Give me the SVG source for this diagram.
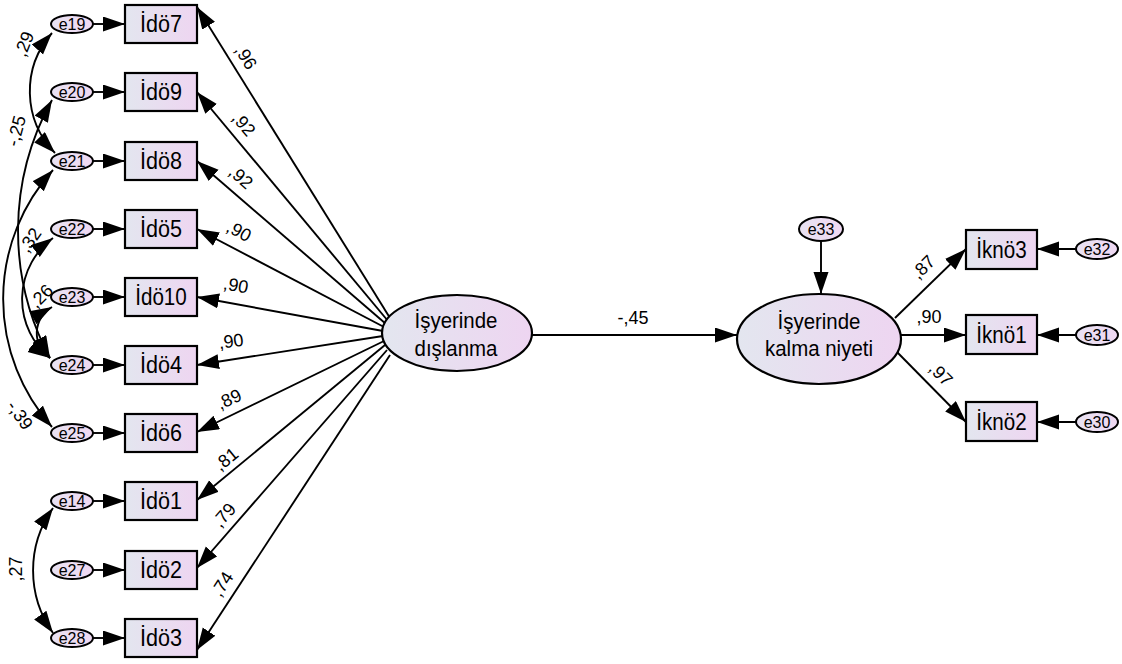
<svg xmlns="http://www.w3.org/2000/svg" width="1122" height="664" viewBox="0 0 1122 664">
<defs>
<linearGradient id="g" x1="0" y1="0" x2="1" y2="0">
<stop offset="0" stop-color="#e3e6ef"/>
<stop offset="1" stop-color="#eed5f1"/>
</linearGradient>
<linearGradient id="ge" x1="0" y1="0" x2="1" y2="0">
<stop offset="0" stop-color="#e8e2f2"/>
<stop offset="1" stop-color="#efd8f2"/>
</linearGradient>
<marker id="ah" markerUnits="userSpaceOnUse" markerWidth="23" markerHeight="16" refX="22" refY="7.5" orient="auto-start-reverse">
<path d="M0,0 L22,7.5 L0,15 z" fill="#000"/>
</marker>
<style>
.box{fill:url(#g);stroke:#000;stroke-width:2.2}
.lat{fill:url(#g);stroke:#000;stroke-width:2.2}
.err{fill:url(#ge);stroke:#000;stroke-width:2}
.bt{font-family:"Liberation Sans",Arial,sans-serif;font-size:24px;text-anchor:middle;fill:#000}
.lt{font-family:"Liberation Sans",Arial,sans-serif;font-size:22px;text-anchor:middle;fill:#000}
.et{font-family:"Liberation Sans",Arial,sans-serif;font-size:16px;text-anchor:middle;fill:#000}
.lab{font-family:"Liberation Sans",Arial,sans-serif;font-size:18px;text-anchor:middle;fill:#000}
.c{fill:none;stroke:#000;stroke-width:1.9;marker-end:url(#ah)}
.cv{fill:none;stroke:#000;stroke-width:1.9;marker-start:url(#ah);marker-end:url(#ah)}
</style>
</defs>
<rect width="1122" height="664" fill="#fff"/>
<g id="connectors">
<line class="c" x1="93" y1="24" x2="125" y2="24"/>
<line class="c" x1="93" y1="92" x2="125" y2="92"/>
<line class="c" x1="93" y1="161" x2="125" y2="161"/>
<line class="c" x1="93" y1="229" x2="125" y2="229"/>
<line class="c" x1="93" y1="297" x2="125" y2="297"/>
<line class="c" x1="93" y1="365" x2="125" y2="365"/>
<line class="c" x1="93" y1="433" x2="125" y2="433"/>
<line class="c" x1="93" y1="501" x2="125" y2="501"/>
<line class="c" x1="93" y1="570" x2="125" y2="570"/>
<line class="c" x1="93" y1="638" x2="125" y2="638"/>
<line class="c" x1="390" y1="318" x2="197" y2="7"/>
<line class="c" x1="388" y1="321" x2="197" y2="92"/>
<line class="c" x1="386" y1="324" x2="197" y2="161"/>
<line class="c" x1="384" y1="327" x2="197" y2="229"/>
<line class="c" x1="383" y1="331" x2="197" y2="297"/>
<line class="c" x1="383" y1="336" x2="197" y2="365"/>
<line class="c" x1="384" y1="341" x2="197" y2="432"/>
<line class="c" x1="385" y1="345" x2="197" y2="500"/>
<line class="c" x1="387" y1="350" x2="197" y2="568"/>
<line class="c" x1="390" y1="355" x2="197" y2="650"/>
<path class="cv" d="M52,33 A88,88 0 0 0 55,153"/>
<path class="cv" d="M52,100 A269,269 0 0 0 50,358"/>
<path class="cv" d="M53,238 A76,76 0 0 0 50,358"/>
<path class="cv" d="M52,307 A30,30 0 0 0 50,358"/>
<path class="cv" d="M53,170 A192,192 0 0 0 52,427"/>
<path class="cv" d="M53,508 A108,108 0 0 0 53,633"/>
<line class="c" x1="532" y1="335" x2="737" y2="335"/>
<line class="c" x1="821" y1="242" x2="821" y2="294"/>
<line class="c" x1="895" y1="318" x2="966" y2="249"/>
<line class="c" x1="901" y1="335" x2="966" y2="335"/>
<line class="c" x1="897" y1="352" x2="966" y2="422"/>
<line class="c" x1="1076" y1="249" x2="1037" y2="249"/>
<line class="c" x1="1076" y1="335" x2="1037" y2="335"/>
<line class="c" x1="1076" y1="422" x2="1037" y2="422"/>
</g>
<g id="labels">
<text class="lab" transform="translate(246,57) rotate(58)" dy="0.35em">,96</text>
<text class="lab" transform="translate(244,124) rotate(50)" dy="0.35em">,92</text>
<text class="lab" transform="translate(241,177) rotate(41)" dy="0.35em">,92</text>
<text class="lab" transform="translate(239,231) rotate(28)" dy="0.35em">,90</text>
<text class="lab" transform="translate(236,285) rotate(10)" dy="0.35em">,90</text>
<text class="lab" transform="translate(231,341) rotate(-8)" dy="0.35em">,90</text>
<text class="lab" transform="translate(229,399) rotate(-25)" dy="0.35em">,89</text>
<text class="lab" transform="translate(226,459) rotate(-39)" dy="0.35em">,81</text>
<text class="lab" transform="translate(224,515) rotate(-49)" dy="0.35em">,79</text>
<text class="lab" transform="translate(222,584) rotate(-57)" dy="0.35em">,74</text>
<text class="lab" transform="translate(24,44) rotate(-68)" dy="0.35em">,29</text>
<text class="lab" transform="translate(16,131) rotate(-75)" dy="0.35em">-,25</text>
<text class="lab" transform="translate(30,240) rotate(-55)" dy="0.35em">,32</text>
<text class="lab" transform="translate(41,296) rotate(-45)" dy="0.35em">,26</text>
<text class="lab" transform="translate(20,415) rotate(55)" dy="0.35em">-,39</text>
<text class="lab" transform="translate(16,569) rotate(-90)" dy="0.35em">,27</text>
<text class="lab" x="633" y="324">-,45</text>
<text class="lab" transform="translate(923,267) rotate(-45)" dy="0.35em">,87</text>
<text class="lab" x="929" y="323">,90</text>
<text class="lab" transform="translate(941,374) rotate(45)" dy="0.35em">,97</text>
</g>
<g id="e19"><ellipse class="err" cx="72" cy="24" rx="21" ry="9"/><text class="et" x="72" y="30">e19</text></g>
<g id="e20"><ellipse class="err" cx="72" cy="92" rx="21" ry="9"/><text class="et" x="72" y="98">e20</text></g>
<g id="e21"><ellipse class="err" cx="72" cy="161" rx="21" ry="9"/><text class="et" x="72" y="167">e21</text></g>
<g id="e22"><ellipse class="err" cx="72" cy="229" rx="21" ry="9"/><text class="et" x="72" y="235">e22</text></g>
<g id="e23"><ellipse class="err" cx="72" cy="297" rx="21" ry="9"/><text class="et" x="72" y="303">e23</text></g>
<g id="e24"><ellipse class="err" cx="72" cy="365" rx="21" ry="9"/><text class="et" x="72" y="371">e24</text></g>
<g id="e25"><ellipse class="err" cx="72" cy="433" rx="21" ry="9"/><text class="et" x="72" y="439">e25</text></g>
<g id="e14"><ellipse class="err" cx="72" cy="501" rx="21" ry="9"/><text class="et" x="72" y="507">e14</text></g>
<g id="e27"><ellipse class="err" cx="72" cy="570" rx="21" ry="9"/><text class="et" x="72" y="576">e27</text></g>
<g id="e28"><ellipse class="err" cx="72" cy="638" rx="21" ry="9"/><text class="et" x="72" y="644">e28</text></g>
<g id="Ido7"><rect class="box" x="125" y="5" width="72" height="38"/><text class="bt" transform="translate(161,32) scale(0.9,1)">İdö7</text></g>
<g id="Ido9"><rect class="box" x="125" y="73" width="72" height="38"/><text class="bt" transform="translate(161,100) scale(0.9,1)">İdö9</text></g>
<g id="Ido8"><rect class="box" x="125" y="142" width="72" height="38"/><text class="bt" transform="translate(161,169) scale(0.9,1)">İdö8</text></g>
<g id="Ido5"><rect class="box" x="125" y="210" width="72" height="38"/><text class="bt" transform="translate(161,237) scale(0.9,1)">İdö5</text></g>
<g id="Ido10"><rect class="box" x="125" y="278" width="72" height="38"/><text class="bt" transform="translate(161,305) scale(0.86,1)">İdö10</text></g>
<g id="Ido4"><rect class="box" x="125" y="346" width="72" height="38"/><text class="bt" transform="translate(161,373) scale(0.9,1)">İdö4</text></g>
<g id="Ido6"><rect class="box" x="125" y="414" width="72" height="38"/><text class="bt" transform="translate(161,441) scale(0.9,1)">İdö6</text></g>
<g id="Ido1"><rect class="box" x="125" y="482" width="72" height="38"/><text class="bt" transform="translate(161,509) scale(0.9,1)">İdö1</text></g>
<g id="Ido2"><rect class="box" x="125" y="551" width="72" height="38"/><text class="bt" transform="translate(161,578) scale(0.9,1)">İdö2</text></g>
<g id="Ido3"><rect class="box" x="125" y="619" width="72" height="38"/><text class="bt" transform="translate(161,646) scale(0.9,1)">İdö3</text></g>
<g id="dislanma"><ellipse class="lat" cx="457" cy="333" rx="75" ry="38"/><text class="lt" transform="translate(456,328) scale(0.93,1)">İşyerinde</text><text class="lt" transform="translate(456,356) scale(0.93,1)">dışlanma</text></g>
<g id="kalma"><ellipse class="lat" cx="819" cy="339" rx="82" ry="45"/><text class="lt" transform="translate(819,329) scale(0.93,1)">İşyerinde</text><text class="lt" transform="translate(819,356) scale(0.93,1)">kalma niyeti</text></g>
<g id="e33"><ellipse class="err" cx="821" cy="229" rx="22" ry="12"/><text class="et" x="821" y="235">e33</text></g>
<g id="Ikno3"><rect class="box" x="966" y="230" width="71" height="39"/><text class="bt" transform="translate(1001.5,258) scale(0.86,1)">İknö3</text></g>
<g id="Ikno1"><rect class="box" x="966" y="315" width="71" height="39"/><text class="bt" transform="translate(1001.5,343) scale(0.86,1)">İknö1</text></g>
<g id="Ikno2"><rect class="box" x="966" y="402" width="71" height="39"/><text class="bt" transform="translate(1001.5,430) scale(0.86,1)">İknö2</text></g>
<g id="e32"><ellipse class="err" cx="1097" cy="249" rx="21" ry="10"/><text class="et" x="1097" y="255">e32</text></g>
<g id="e31"><ellipse class="err" cx="1097" cy="335" rx="21" ry="10"/><text class="et" x="1097" y="341">e31</text></g>
<g id="e30"><ellipse class="err" cx="1097" cy="422" rx="21" ry="10"/><text class="et" x="1097" y="428">e30</text></g>
</svg>
